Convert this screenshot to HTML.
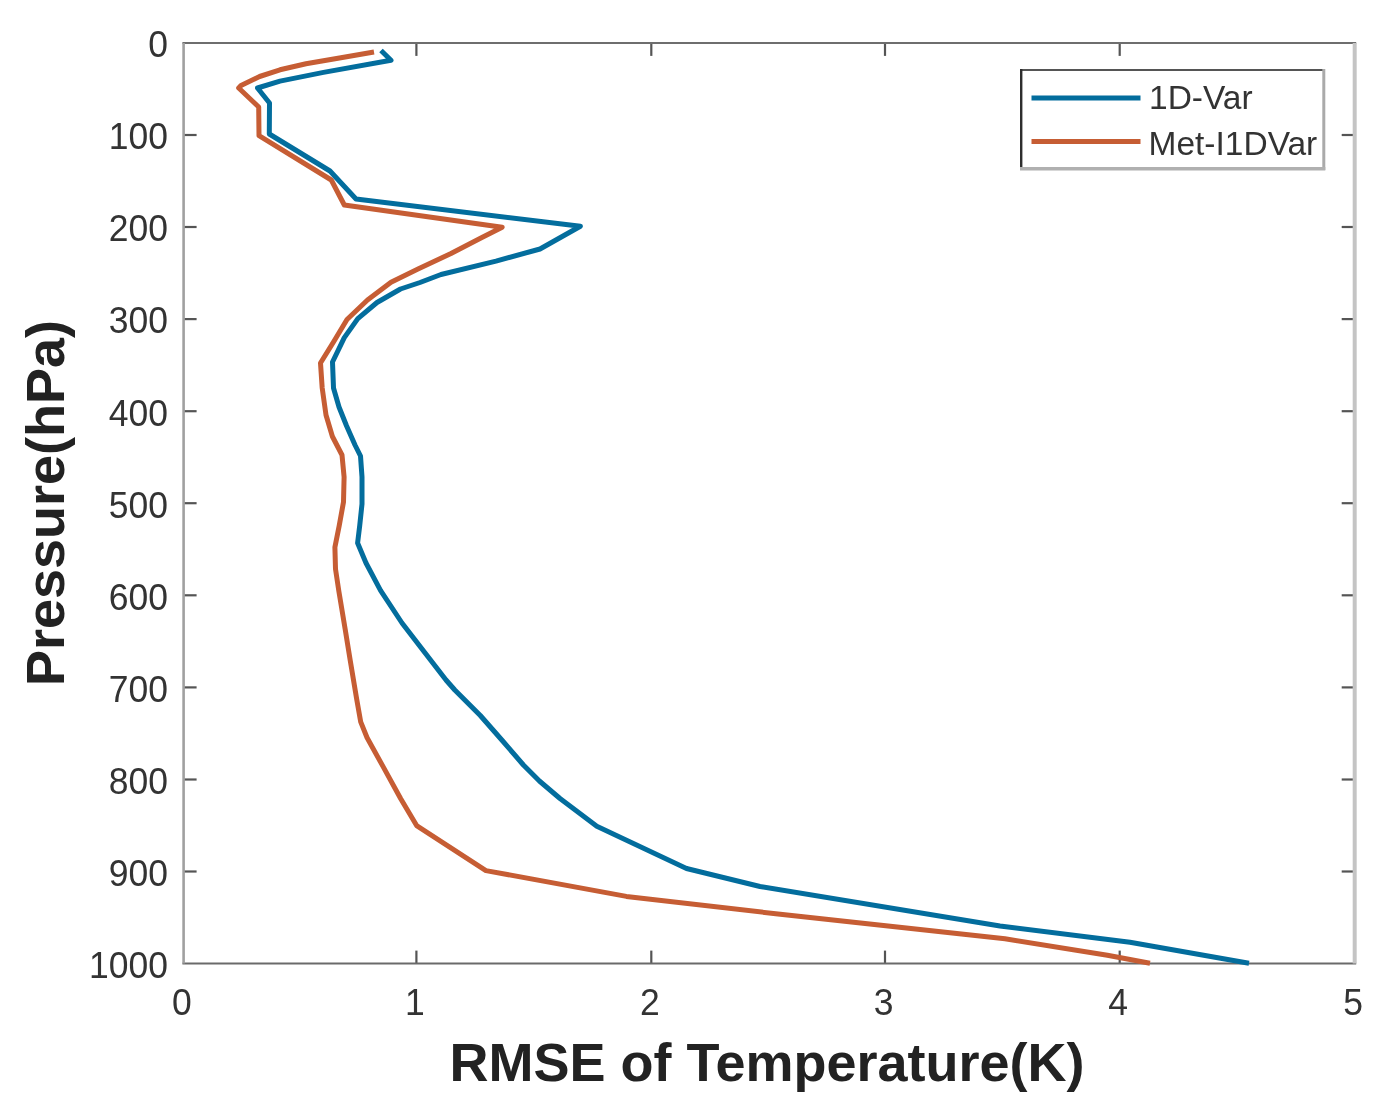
<!DOCTYPE html>
<html><head><meta charset="utf-8"><style>
html,body{margin:0;padding:0;background:#fff;}
body{width:1380px;height:1110px;overflow:hidden;}
svg{display:block;filter:blur(0.5px);}
text{font-family:"Liberation Sans",sans-serif;fill:#262626;}
.tk{font-size:35.5px;fill:#333;}
.lb{font-size:54px;font-weight:bold;fill:#222;}
.lg{font-size:33.5px;fill:#333;}
</style></head><body>
<svg width="1380" height="1110" viewBox="0 0 1380 1110">
<rect width="1380" height="1110" fill="#fff"/>
<line x1="416.4" y1="963.6" x2="416.4" y2="950.6" stroke="#555" stroke-width="2.2"/>
<line x1="416.4" y1="42.9" x2="416.4" y2="55.9" stroke="#555" stroke-width="2.2"/>
<line x1="651.3" y1="963.6" x2="651.3" y2="950.6" stroke="#555" stroke-width="2.2"/>
<line x1="651.3" y1="42.9" x2="651.3" y2="55.9" stroke="#555" stroke-width="2.2"/>
<line x1="885.0" y1="963.6" x2="885.0" y2="950.6" stroke="#555" stroke-width="2.2"/>
<line x1="885.0" y1="42.9" x2="885.0" y2="55.9" stroke="#555" stroke-width="2.2"/>
<line x1="1119.7" y1="963.6" x2="1119.7" y2="950.6" stroke="#555" stroke-width="2.2"/>
<line x1="1119.7" y1="42.9" x2="1119.7" y2="55.9" stroke="#555" stroke-width="2.2"/>
<line x1="183.6" y1="135.0" x2="196.6" y2="135.0" stroke="#555" stroke-width="2.2"/>
<line x1="1354.7" y1="135.0" x2="1341.7" y2="135.0" stroke="#555" stroke-width="2.2"/>
<line x1="183.6" y1="227.0" x2="196.6" y2="227.0" stroke="#555" stroke-width="2.2"/>
<line x1="1354.7" y1="227.0" x2="1341.7" y2="227.0" stroke="#555" stroke-width="2.2"/>
<line x1="183.6" y1="319.1" x2="196.6" y2="319.1" stroke="#555" stroke-width="2.2"/>
<line x1="1354.7" y1="319.1" x2="1341.7" y2="319.1" stroke="#555" stroke-width="2.2"/>
<line x1="183.6" y1="411.2" x2="196.6" y2="411.2" stroke="#555" stroke-width="2.2"/>
<line x1="1354.7" y1="411.2" x2="1341.7" y2="411.2" stroke="#555" stroke-width="2.2"/>
<line x1="183.6" y1="503.2" x2="196.6" y2="503.2" stroke="#555" stroke-width="2.2"/>
<line x1="1354.7" y1="503.2" x2="1341.7" y2="503.2" stroke="#555" stroke-width="2.2"/>
<line x1="183.6" y1="595.3" x2="196.6" y2="595.3" stroke="#555" stroke-width="2.2"/>
<line x1="1354.7" y1="595.3" x2="1341.7" y2="595.3" stroke="#555" stroke-width="2.2"/>
<line x1="183.6" y1="687.4" x2="196.6" y2="687.4" stroke="#555" stroke-width="2.2"/>
<line x1="1354.7" y1="687.4" x2="1341.7" y2="687.4" stroke="#555" stroke-width="2.2"/>
<line x1="183.6" y1="779.5" x2="196.6" y2="779.5" stroke="#555" stroke-width="2.2"/>
<line x1="1354.7" y1="779.5" x2="1341.7" y2="779.5" stroke="#555" stroke-width="2.2"/>
<line x1="183.6" y1="871.5" x2="196.6" y2="871.5" stroke="#555" stroke-width="2.2"/>
<line x1="1354.7" y1="871.5" x2="1341.7" y2="871.5" stroke="#555" stroke-width="2.2"/>
<line x1="182.4" y1="42.9" x2="1356.2" y2="42.9" stroke="#6e6e6e" stroke-width="2"/>
<line x1="182.4" y1="963.6" x2="1356.2" y2="963.6" stroke="#6a6a6a" stroke-width="2"/>
<line x1="183.6" y1="42.9" x2="183.6" y2="963.6" stroke="#a0a0a0" stroke-width="2.6"/>
<line x1="1354.7" y1="42.9" x2="1354.7" y2="963.6" stroke="#c4c4c4" stroke-width="4"/>
<polyline points="374.0,52.0 340.9,57.7 306.0,63.7 280.0,69.8 259.6,76.5 241.0,85.5 238.7,88.0 258.7,107.0 259.0,135.7 331.3,180.0 344.3,205.0 502.2,227.2 481.4,237.8 451.0,253.5 418.0,269.0 391.0,282.3 367.5,300.0 347.0,319.5 333.5,342.0 320.5,363.0 322.2,388.0 326.0,415.0 332.4,436.5 342.0,455.0 344.1,477.0 343.5,502.0 339.2,525.7 334.9,547.3 335.5,569.0 338.9,591.5 345.2,629.4 350.3,660.9 356.6,698.7 360.7,721.9 367.1,737.8 383.1,766.6 400.6,798.5 416.6,825.6 485.9,870.6 626.4,896.4 778.0,914.0 1005.0,938.8 1107.4,955.3 1150.0,963.3" fill="none" stroke="#c65d34" stroke-width="5" stroke-linejoin="round"/>
<polyline points="381.0,50.5 391.0,60.3 323.5,72.4 280.0,81.1 257.5,88.0 269.5,103.0 269.3,134.0 330.0,171.0 356.0,199.0 580.4,226.3 540.0,249.0 496.0,261.1 441.0,274.5 420.0,282.5 400.5,289.0 377.0,302.5 357.8,318.6 344.3,337.6 332.5,362.0 333.5,388.0 339.0,407.0 346.5,425.7 355.0,445.0 360.5,456.0 362.0,477.0 362.0,504.0 359.7,525.7 357.6,543.0 366.0,563.0 380.5,590.3 402.0,623.0 423.4,650.8 446.0,680.0 454.8,690.0 480.3,715.5 502.7,741.0 523.4,765.0 539.4,781.0 560.0,798.5 596.8,826.2 686.5,868.5 760.0,886.5 1000.0,926.0 1130.0,942.3 1249.0,963.3" fill="none" stroke="#036d9d" stroke-width="5" stroke-linejoin="round"/>
<text transform="translate(181.9,1015) scale(1,1.05)" text-anchor="middle" class="tk">0</text>
<text transform="translate(414.9,1015) scale(1,1.05)" text-anchor="middle" class="tk">1</text>
<text transform="translate(649.8,1015) scale(1,1.05)" text-anchor="middle" class="tk">2</text>
<text transform="translate(883.5,1015) scale(1,1.05)" text-anchor="middle" class="tk">3</text>
<text transform="translate(1118.2,1015) scale(1,1.05)" text-anchor="middle" class="tk">4</text>
<text transform="translate(1353.2,1015) scale(1,1.05)" text-anchor="middle" class="tk">5</text>
<text transform="translate(168,57.2) scale(1,1.05)" text-anchor="end" class="tk">0</text>
<text transform="translate(168,149.3) scale(1,1.05)" text-anchor="end" class="tk">100</text>
<text transform="translate(168,241.3) scale(1,1.05)" text-anchor="end" class="tk">200</text>
<text transform="translate(168,333.4) scale(1,1.05)" text-anchor="end" class="tk">300</text>
<text transform="translate(168,425.5) scale(1,1.05)" text-anchor="end" class="tk">400</text>
<text transform="translate(168,517.5) scale(1,1.05)" text-anchor="end" class="tk">500</text>
<text transform="translate(168,609.6) scale(1,1.05)" text-anchor="end" class="tk">600</text>
<text transform="translate(168,701.7) scale(1,1.05)" text-anchor="end" class="tk">700</text>
<text transform="translate(168,793.8) scale(1,1.05)" text-anchor="end" class="tk">800</text>
<text transform="translate(168,885.8) scale(1,1.05)" text-anchor="end" class="tk">900</text>
<text transform="translate(168,977.9) scale(1,1.05)" text-anchor="end" class="tk">1000</text>
<text x="767" y="1081" text-anchor="middle" class="lb">RMSE of Temperature(K)</text>
<text transform="translate(64,503) rotate(-90)" text-anchor="middle" class="lb">Pressure(hPa)</text>
<rect x="1021" y="70" width="302.5" height="99" fill="#fff" stroke="none"/>
<line x1="1020" y1="69.9" x2="1324.8" y2="69.9" stroke="#555" stroke-width="2"/>
<line x1="1021.2" y1="69" x2="1021.2" y2="170" stroke="#2e2e2e" stroke-width="2.4"/>
<line x1="1323.8" y1="69" x2="1323.8" y2="170" stroke="#aaa" stroke-width="3"/>
<line x1="1020" y1="168.8" x2="1325.3" y2="168.8" stroke="#b0b0b0" stroke-width="3.5"/>
<line x1="1031.5" y1="98" x2="1140.5" y2="98" stroke="#036d9d" stroke-width="5"/>
<line x1="1031.5" y1="141.5" x2="1140.5" y2="141.5" stroke="#c65d34" stroke-width="5"/>
<text x="1149" y="109" class="lg">1D-Var</text>
<text x="1148.5" y="154.5" class="lg">Met-I1DVar</text>
</svg>
</body></html>
